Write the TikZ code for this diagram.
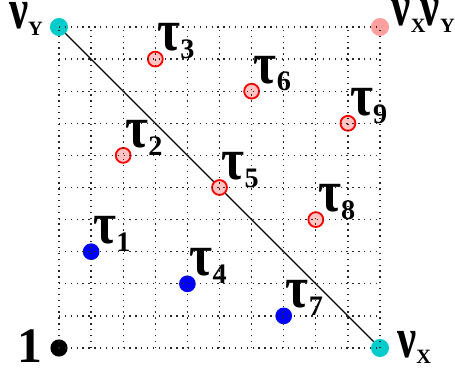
\documentclass[tikz,border=0pt]{standalone}
\usepackage{fontspec}
\setmainfont{Liberation Serif}
\usetikzlibrary{positioning}
\definecolor{nucyan}{RGB}{0,204,204}
\definecolor{nupink}{RGB}{255,160,160}
\definecolor{taufill}{RGB}{255,195,195}
\newcommand{\taulbl}[1]{\scalebox{1.05}[1.25]{\fontsize{21}{21}\selectfont τ}\raisebox{-3.5pt}{\fontsize{12.5}{12}\selectfont #1}}
\newcommand{\nulbl}[1]{\scalebox{0.9}[1.2]{\fontsize{21}{21}\selectfont ν}\raisebox{-3pt}{\fontsize{9}{9}\selectfont #1}}

\begin{document}
\begin{tikzpicture}[x=0.5cm, y=0.5cm,
  taupt/.style={circle, inner sep=0pt, minimum size=6.6pt, draw=red, line width=0.8pt, fill=taufill},
  bluept/.style={circle, inner sep=0pt, minimum size=7.4pt, fill=blue},
  nupt/.style={circle, inner sep=0pt, minimum size=8pt, fill=nucyan},
  toppt/.style={circle, inner sep=0pt, minimum size=8pt, fill=nupink},
  unitpt/.style={circle, inner sep=0pt, minimum size=7.6pt, fill=black},
  lbl/.style={inner sep=0pt, font=\bfseries}]
  \useasboundingbox (-1.838,-0.623) rectangle (12.336,10.841);

  % corners
  \coordinate (a) at (0,10);
  \coordinate (b) at (10,0);
  \draw[black, line width=0.5pt] (a) -- (b);
  \node[unitpt] (one) at (0,0) {};
  \node[nupt] (nuY) at (a) {};
  \node[nupt] (nuX) at (b) {};
  \node[toppt] (nuXY) at (10,10) {};

  % lower triangle
  \node[bluept] (t1) at (1,3) {};
  \node[bluept] (t4) at (4,2) {};
  \node[bluept] (t7) at (7,1) {};

  % the rest
  \node[taupt] (t2) at (2,6) {};
  \node[taupt] (t5) at (5,5) {};
  \node[taupt] (t8) at (8,4) {};
  \node[taupt] (t3) at (3,9) {};
  \node[taupt] (t6) at (6,8) {};
  \node[taupt] (t9) at (9,7) {};

  % grid on top
  \draw[black!85, dotted, line width=0.6pt, step=0.5cm] (0,0) grid (10,10);

  % labels
  \foreach \i in {1,...,9}
    \node[lbl, anchor=base west, xshift=0.8pt, yshift=3.6pt] at (t\i) {\taulbl{\i}};
  \node[lbl, anchor=base east, xshift=-7pt, yshift=-0.8pt] at (nuY) {\nulbl{Y}};
  \node[lbl, anchor=base west, xshift=7.5pt, yshift=-4pt] at (nuX) {\nulbl{X}};
  \node[lbl, anchor=base west, xshift=5pt, yshift=0.5pt] at (nuXY) {\nulbl{X}\kern-2pt\nulbl{Y}};
  \node[lbl, anchor=base east, xshift=-7pt, yshift=-6.6pt, font=\bfseries\fontsize{22}{22}\selectfont] at (one) {1};
\end{tikzpicture}
\end{document}
